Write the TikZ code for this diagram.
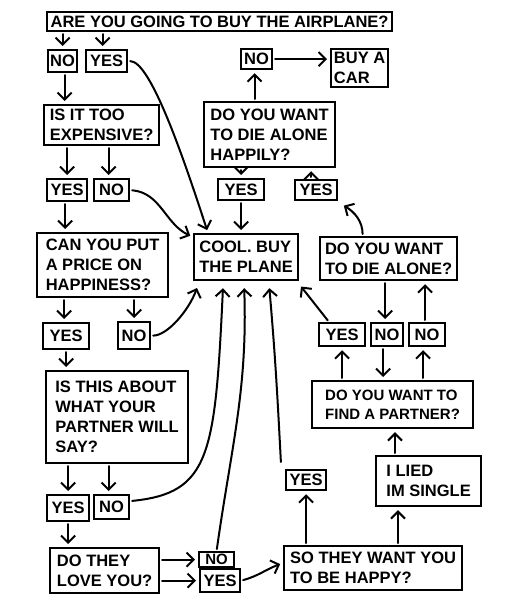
\documentclass[tikz,border=0pt]{standalone}
\usepackage{fontspec}
\usepackage{tikz}
\usetikzlibrary{arrows.meta,calc}
\newfontfamily\handfont{Liberation Sans}
\newcommand{\hand}{\handfont\bfseries\fontsize{16.5pt}{20pt}\selectfont}
\newcommand{\handsmall}{\handfont\bfseries\fontsize{15pt}{19pt}\selectfont}

\begin{document}
\begin{tikzpicture}[
    x=1pt, y=1pt,
    box/.style={rectangle, draw, line width=2.2pt, anchor=north west,
                align=left, inner xsep=2pt, inner ysep=1pt, font=\hand},
    dims/.style 2 args={minimum width=#1pt, minimum height=#2pt},
    arr/.style={-{Straight Barb[length=7pt,width=14pt]}, line width=2pt,
                line cap=round, line join=round,
                shorten <=2pt, shorten >=3pt}
  ]
  \fill[white] (0,0) rectangle (508,-600);
  \useasboundingbox (0,0) rectangle (508,-600);

  % left column
  \node[box, dims={345}{19}] (title) at (46,-11) {ARE YOU GOING TO BUY THE AIRPLANE?};
  \node[box, dims={29}{22}] (noA) at (47,-49) {NO};
  \node[box, dims={41}{22}] (yesA) at (85,-49) {YES};
  \node[box, dims={115}{40}] (expensive) at (43,-104) {IS IT TOO\\EXPENSIVE?};
  \node[box, dims={40}{22}] (yesB) at (46,-178) {YES};
  \node[box, dims={35}{22}] (noB) at (93,-178) {NO};
  \node[box, dims={131}{64}] (price) at (36,-232) {CAN YOU PUT\\A PRICE ON\\HAPPINESS?};
  \node[box, dims={46}{26}] (yesC) at (42,-322) {YES};
  \node[box, dims={32}{27}] (noC) at (117,-321) {NO};
  \node[box, dims={142}{92}] (partner) at (45,-370) {IS THIS ABOUT\\WHAT YOUR\\PARTNER WILL\\SAY?};
  \node[box, dims={42}{26}] (yesD) at (46,-494) {YES};
  \node[box, dims={35}{24}] (noD) at (93,-494) {NO};
  \node[box, dims={109}{45}] (love) at (49,-547) {DO THEY\\LOVE YOU?};
  \node[box, dims={35}{15}, inner ysep=0pt, font=\handsmall] (noE) at (198,-551) {NO};
  \node[box, dims={40}{23}] (yesE) at (199,-568) {YES};

  % middle
  \node[box, dims={104}{46}] (cool) at (193,-233) {COOL. BUY\\THE PLANE};
  \node[box, dims={131}{65}] (happily) at (203,-101) {DO YOU WANT\\TO DIE ALONE\\HAPPILY?};
  \node[box, dims={31}{20}] (noI) at (240,-48) {NO};
  \node[box, dims={57}{38}] (car) at (330,-48) {BUY A\\CAR};
  \node[box, dims={46}{21}] (yesH) at (217,-178) {YES};
  \node[box, dims={42}{20}] (yesI) at (294,-179) {YES};

  % right column
  \node[box, dims={137}{43}] (diealone) at (319,-236) {DO YOU WANT\\TO DIE ALONE?};
  \node[box, dims={46}{23}] (yesG) at (318,-322) {YES};
  \node[box, dims={32}{23}] (noG) at (370,-322) {NO};
  \node[box, dims={36}{23}] (noH) at (408,-322) {NO};
  \node[box, dims={161}{47}, font=\handsmall] (findpartner) at (311,-380) {DO YOU WANT TO\\FIND A PARTNER?};
  \node[box, dims={105}{50}] (single) at (375,-455) {I LIED\\IM SINGLE};
  \node[box, dims={40}{20}] (yesF) at (285,-469) {YES};
  \node[box, dims={178}{44}] (happy) at (283,-545) {SO THEY WANT YOU\\TO BE HAPPY?};

  % left column arrows
  \draw[arr] (noA |- title.south) -- (noA.north);
  \draw[arr] ([xshift=-4pt]yesA |- title.south) -- ([xshift=-4pt]yesA.north);
  \draw[arr] ([xshift=2pt]noA.south) -- ([xshift=2pt]noA.south |- expensive.north);
  \draw[arr] (yesA.east) to[out=0, in=108, out looseness=0.3, in looseness=1.1]
    ([xshift=15pt]cool.north west);
  \draw[arr] (yesB |- expensive.south) -- (yesB.north);
  \draw[arr] ([xshift=-3pt]noB |- expensive.south) -- ([xshift=-3pt]noB.north);
  \draw[arr] (noB.east) to[out=-5, in=155] ([yshift=-4pt]cool.north west);
  \draw[arr] ([xshift=-2pt]yesB.south) -- ([xshift=-2pt]yesB.south |- price.north);
  \draw[arr] ([xshift=-2pt]yesC |- price.south) -- ([xshift=-2pt]yesC.north);
  \draw[arr] (noC |- price.south) -- (noC.north);
  \draw[arr] (noC.east) to[out=0, in=-110, out looseness=0.6]
    ([xshift=5pt, yshift=-4pt]cool.south west);
  \draw[arr] (yesC.south) -- (yesC.south |- partner.north);
  \draw[arr] (yesD |- partner.south) -- (yesD.north);
  \draw[arr] ([xshift=-3pt]noD |- partner.south) -- ([xshift=-3pt]noD.north);
  \draw[arr] ([yshift=6pt]noD.east) .. controls +(80,8) and +(-8,-170) ..
    ([xshift=-23pt, yshift=-4pt]cool.south);
  \draw[arr] (yesD.south) -- (yesD.south |- love.north);
  \draw[arr] (love.east |- noE) to[out=0, in=180] (noE.west);
  \draw[arr] (love.east |- yesE) -- (yesE.west);
  \draw[arr] (noE.north) to[out=82, in=-88] ([xshift=-2pt, yshift=-4pt]cool.south);
  \draw[arr] (yesE.east) to[out=15, in=200] ([yshift=5pt]happy.west);

  % middle arrows
  \draw[arr] (yesH |- happily.south) -- (yesH.north);
  \draw[arr] ([xshift=-5pt]yesI.north) -- ([xshift=-5pt]yesI.north |- happily.south);
  \draw[arr] (yesH.south) -- (yesH.south |- cool.north);
  \draw[arr] ([xshift=-2pt]noI |- happily.north) -- ([xshift=-2pt]noI.south);
  \draw[arr] (noI.east) -- (noI.east -| car.west);

  % right column arrows
  \draw[arr] ([xshift=-26pt]diealone.north) to[out=90, in=-30]
    ([xshift=3pt, yshift=-3pt]yesI.south east);
  \draw[arr] ([xshift=-2pt]noG |- diealone.south) -- ([xshift=-2pt]noG.north);
  \draw[arr] ([xshift=-2pt]noH.north) -- ([xshift=-2pt]noH.north |- diealone.south);
  \draw[arr] ([xshift=11pt]yesG.north west) -- ([yshift=-3pt]cool.south east);
  \draw[arr] (yesG |- findpartner.north) -- (yesG.south);
  \draw[arr] ([xshift=-4pt]noG.south) -- ([xshift=-4pt]noG.south |- findpartner.north);
  \draw[arr] ([xshift=-4pt]noH |- findpartner.north) -- ([xshift=-4pt]noH.south);
  \draw[arr] ([xshift=20pt]single.north west |- single.north) -- ([xshift=20pt]single.north west |- findpartner.south);
  \draw[arr] ([xshift=-4pt, yshift=5pt]yesF.north west) to[out=93, in=-85]
    ([xshift=23pt, yshift=-4pt]cool.south);
  \draw[arr] (yesF |- happy.north) -- (yesF.south);
  \draw[arr] ([xshift=115pt]happy.north west) -- ([xshift=115pt]happy.north west |- single.south);
\end{tikzpicture}
\end{document}
